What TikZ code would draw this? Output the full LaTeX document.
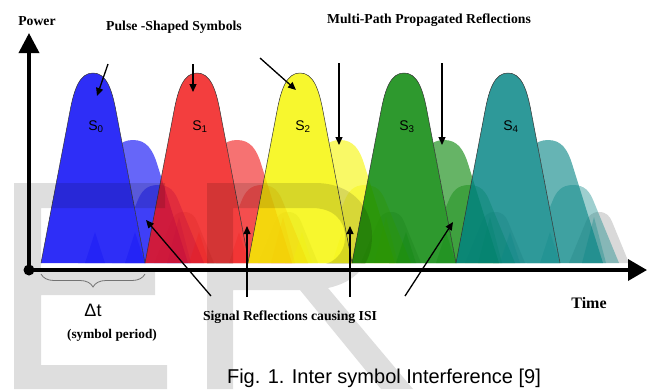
\documentclass[tikz,border=0pt]{standalone}
\usepackage{fontspec}
\setmainfont{Liberation Serif}
\newfontfamily\arialfam{Liberation Sans}
\usetikzlibrary{arrows.meta,decorations.pathreplacing}

\definecolor{symblue}{RGB}{0,0,245}
\definecolor{symred}{RGB}{240,20,20}
\definecolor{symyellow}{RGB}{245,245,0}
\definecolor{symgreen}{RGB}{0,130,0}
\definecolor{symteal}{RGB}{0,130,130}

% pulse outline: {centre}{height}{half width}, base line at y=263
\newcommand{\pulsepath}[3]{%
  ({#1-#3},263) -- ({#1-0.442*#3},{263-0.8*#2}) .. controls ({#1-0.36*#3},{263-0.92*#2}) and ({#1-0.25*#3},{263-#2}) .. ({#1},{263-#2})
    .. controls ({#1+0.25*#3},{263-#2}) and ({#1+0.36*#3},{263-0.92*#2}) .. ({#1+0.442*#3},{263-0.8*#2}) -- ({#1+#3},263)}
% spike: [options]{centre}{top}{half width}
\newcommand{\drawspike}[4][]{%
  \path[#1] ({#2-#4},263) -- ({#2},#3) -- ({#2+#4},263) -- cycle;}

\begin{document}
\begin{tikzpicture}[x=1pt, y=-1pt,
    lbl/.style={font=\bfseries\fontsize{13.7}{16}\selectfont, anchor=base, inner sep=0pt},
    arr/.style={draw, line width=1.3pt, -{Triangle[length=8pt,width=7pt]}},
    axis/.style={draw, line width=3.6pt}]
    \useasboundingbox (0,0) rectangle (647,389);
    % symbols and their reflections
    \foreach \c/\col/\k in {93/symblue/0, 197/symred/1, 300/symyellow/2, 404/symgreen/3, 508/symteal/4}{
        \begin{scope}[even odd rule]
            % reflections only outside their own symbol
            \clip (0,0) rectangle (647,389) \pulsepath{\c}{190}{52} -- cycle;
            \path[fill=black!15] \pulsepath{\c+91}{51}{30};
            \path[fill=\col, fill opacity=0.38] \pulsepath{\c+65}{78}{46};
            \path[fill=\col, fill opacity=0.6] \pulsepath{\c+40}{123}{55};
        \end{scope}
        \path[fill=\col, fill opacity=0.82, draw=black!80, line width=0.5pt] \pulsepath{\c}{190}{52};
        \drawspike[fill=\col, fill opacity=0.22]{\c+2}{232}{10}
        \drawspike[fill=\col, fill opacity=0.22]{\c+42}{232}{10}
        \drawspike[fill=\col, fill opacity=0.3]{\c+86}{217}{12}
        \node[font=\arialfam\fontsize{14}{16}\selectfont, anchor=base, inner sep=0pt] (s\k) at (\c+3,130) {S\textsubscript{\k}};
    }
    % watermark E and R
    \path[fill=black, fill opacity=0.13] (14,183) -- (165,183) -- (165,208) -- (41,208) -- (41,268) -- (155,268)
        -- (155,295) -- (41,295) -- (41,365) -- (167,365) -- (167,389) -- (14,389) -- cycle;
    \path[fill=black, fill opacity=0.13, even odd rule] (207,183) -- (315,183) .. controls (352,183) and (372,207) .. (372,236)
        .. controls (372,264) and (356,282) .. (328,288) -- (413,389) -- (381,389) -- (300,290) -- (233,290) -- (233,389)
        -- (207,389) -- cycle
        (233,208) -- (312,208) .. controls (333,208) and (345,220) .. (345,237) .. controls (345,254) and (333,266) .. (312,266)
        -- (233,266) -- cycle;
    \fill[white] (41,263.5) rectangle (625,268);
    % axes
    \coordinate (O) at (29,270);
    \coordinate (ytip) at (29,33);
    \coordinate (xtip) at (647,270);
    \path[axis, -{Triangle[length=20pt,width=20pt]}] (O) to (ytip);
    \path[axis, -{Triangle[length=19pt,width=21pt]}] (O) to (xtip);
    \fill (O) circle (5.5);
    % symbol period
    \path[draw=black!55, line width=0.8pt, decorate, decoration={brace, amplitude=13pt, mirror}] (41,274) to (145,274);
    \node[font=\arialfam\fontsize{18}{20}\selectfont, anchor=base, inner sep=0pt] (dt) at (93,316) {Δt};
    \node[lbl, font=\bfseries\fontsize{13.3}{15}\selectfont] (period) at (112,338) {(symbol period)};
    % labels
    \node[lbl] (power) at (37,25) {Power};
    \node[lbl] (pulses) at (174,30) {Pulse -Shaped Symbols};
    \node[lbl] (multipath) at (429,23) {Multi-Path Propagated Reflections};
    \node[lbl] (isi) at (290,320) {Signal Reflections causing ISI};
    \node[lbl, font=\bfseries\fontsize{16}{18}\selectfont] (time) at (589,308) {Time};
    \node[font=\arialfam\fontsize{20}{24}\selectfont, anchor=base, inner sep=0pt] (caption) at (384,383.5) {Fig. 1. Inter symbol Interference [9]};
    % pointers to the symbols
    \coordinate (pa0) at (108,64); \coordinate (pb0) at (97,96);
    \coordinate (pa1) at (193,64); \coordinate (pb1) at (193,92);
    \coordinate (pa2) at (260,58); \coordinate (pb2) at (296,90);
    \path[arr] (pa0) to (pb0);
    \path[arr] (pa1) to (pb1);
    \path[arr] (pa2) to (pb2);
    % pointers to the reflections
    \coordinate (ma0) at (339,63); \coordinate (mb0) at (339,145);
    \coordinate (ma1) at (442,63); \coordinate (mb1) at (442,145);
    \path[arr] (ma0) to (mb0);
    \path[arr] (ma1) to (mb1);
    % pointers to the overlaps
    \coordinate (ia0) at (211,296); \coordinate (ib0) at (146,220);
    \coordinate (ia1) at (247,297); \coordinate (ib1) at (247,226);
    \coordinate (ia2) at (350,297); \coordinate (ib2) at (350,226);
    \coordinate (ia3) at (405,296); \coordinate (ib3) at (453,222);
    \path[arr] (ia0) to (ib0);
    \path[arr] (ia1) to (ib1);
    \path[arr] (ia2) to (ib2);
    \path[arr] (ia3) to (ib3);
\end{tikzpicture}
\end{document}
